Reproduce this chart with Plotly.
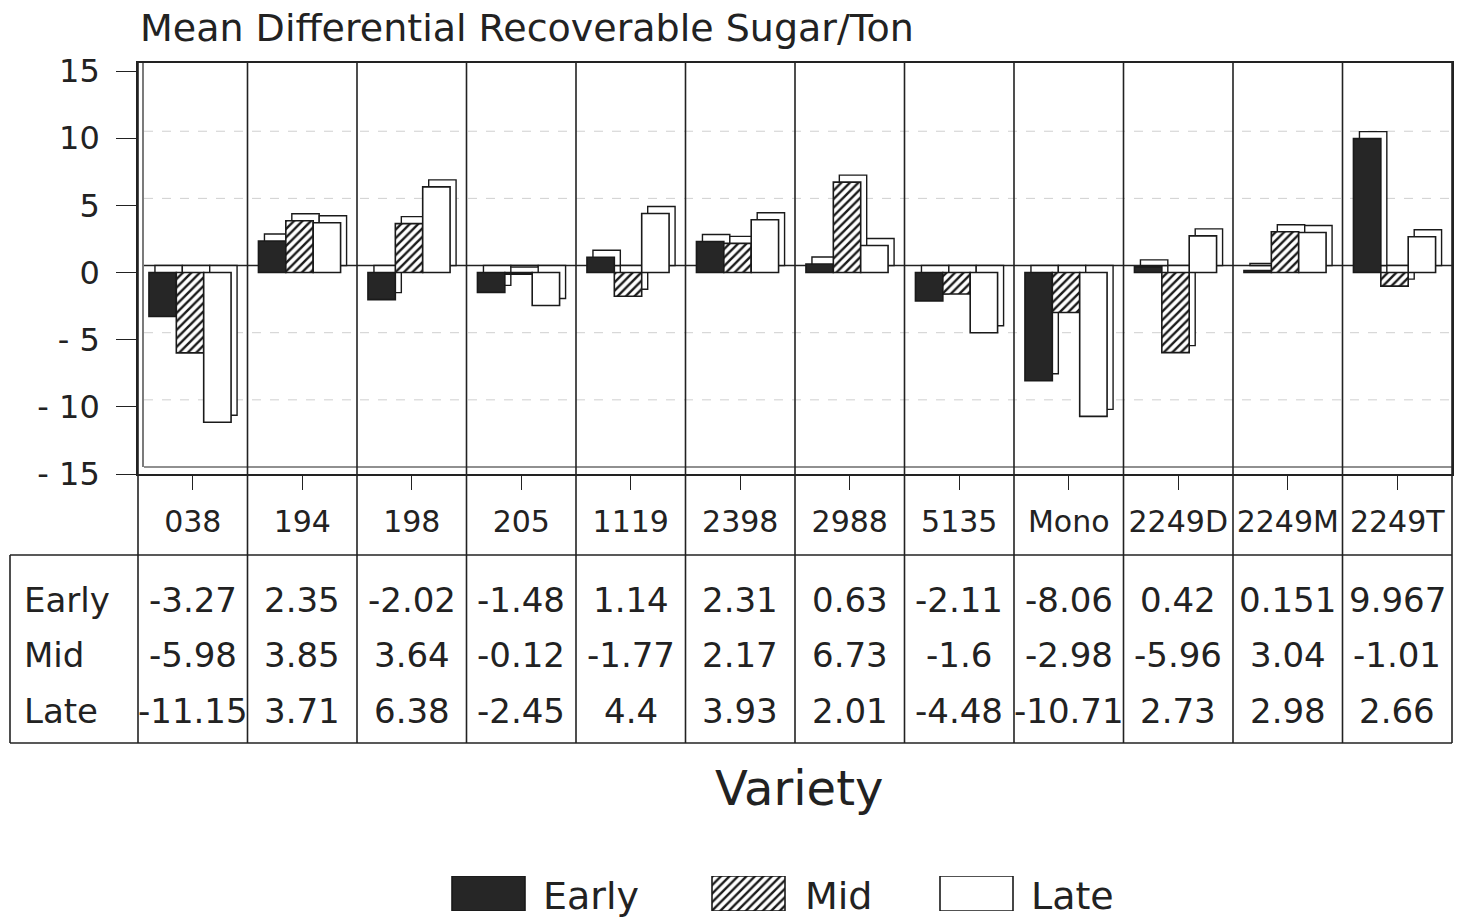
import plotly.graph_objects as go

# ---- data ---------------------------------------------------------------
varieties = ["038", "194", "198", "205", "1119", "2398", "2988", "5135",
             "Mono", "2249D", "2249M", "2249T"]
early = [-3.27, 2.35, -2.02, -1.48, 1.14, 2.31, 0.63, -2.11, -8.06, 0.42, 0.151, 9.967]
mid = [-5.98, 3.85, 3.64, -0.12, -1.77, 2.17, 6.73, -1.6, -2.98, -5.96, 3.04, -1.01]
late = [-11.15, 3.71, 6.38, -2.45, 4.4, 3.93, 2.01, -4.48, -10.71, 2.73, 2.98, 2.66]
series_names = ["Early", "Mid", "Late"]
y_tickvals = [-15, -10, -5, 0, 5, 10, 15]
y_ticktext = ["- 15", "- 10", "- 5", "0", "5", "10", "15"]
grid_values = [-10, -5, 5, 10]

title_text = "Mean Differential Recoverable Sugar/Ton"
x_title = "Variety"

# ---- page geometry (pixels) --------------------------------------------
W, H = 1457, 918
PLOT_L, PLOT_R = 138, 1452
PLOT_TOP, PLOT_BOT = 63, 474
HEAD_BOT = 555
TABLE_BOT = 743
TABLE_L = 10
ROW_Y = [600, 655, 711]

Y_MIN, Y_MAX = -15, 15.6
UNIT = (PLOT_BOT - PLOT_TOP) / (Y_MAX - Y_MIN)
CAT_PX = (PLOT_R - PLOT_L) / len(varieties)
DEPTH_X = 6 / CAT_PX          # bar depth, category units
DEPTH_Y = 7 / UNIT            # bar depth, value units

BAR_W = 0.25
GROUP_START = -0.4

INK = "#222222"
FONT = "DejaVu Sans"


def px(x):
    return x / W


def py(y):
    return 1 - y / H


def front_marker(name):
    line = dict(color="#1a1a1a", width=1.6)
    if name == "Early":
        return dict(color="#262626", line=line)
    if name == "Mid":
        return dict(color="white", line=line,
                    pattern=dict(shape="/", fgcolor="#1a1a1a", bgcolor="white",
                                 size=6, solidity=0.4))
    return dict(color="white", line=line)


fig = go.Figure()

# ---- 3-D style bars -----------------------------------------------------
for k, (name, vals) in enumerate(zip(series_names, [early, mid, late])):
    off = GROUP_START + k * BAR_W
    # receding faces: same box pushed back and up
    fig.add_bar(x=varieties, y=vals, base=DEPTH_Y, offset=off + DEPTH_X, width=BAR_W,
                marker=dict(color="white", line=dict(color="#1a1a1a", width=1.4)),
                showlegend=False, hoverinfo="skip")
    # front face
    fig.add_bar(x=varieties, y=vals, base=0, offset=off, width=BAR_W,
                marker=front_marker(name), name=name, showlegend=False)

# ---- legend keys, drawn in their own pixel-scaled axes ------------------
LEG_X = [452, 712, 940]
LEG_W = 73
LEG_TEXT_X = [541, 803, 1029]
for k, name in enumerate(series_names):
    fig.add_bar(x=[LEG_X[k] + LEG_W / 2], y=[1], width=[LEG_W], base=0,
                xaxis="x2", yaxis="y2", marker=front_marker(name),
                showlegend=False, hoverinfo="skip")

shapes = []
line_style = dict(color=INK, width=1.6)

# back-wall grid, zero line and floor edge
for g in grid_values:
    shapes.append(dict(type="line", xref="paper", yref="y", layer="below",
                       x0=px(PLOT_L + 6), x1=px(PLOT_R), y0=g + DEPTH_Y, y1=g + DEPTH_Y,
                       line=dict(color="#cfcfcf", width=1, dash="dash")))
shapes.append(dict(type="line", xref="paper", yref="y", layer="below",
                   x0=px(PLOT_L + 6), x1=px(PLOT_R), y0=DEPTH_Y, y1=DEPTH_Y,
                   line=dict(color=INK, width=1.4)))
shapes.append(dict(type="line", xref="paper", yref="y", layer="below",
                   x0=px(PLOT_L + 6), x1=px(PLOT_R), y0=Y_MIN + DEPTH_Y, y1=Y_MIN + DEPTH_Y,
                   line=dict(color=INK, width=1.2)))
shapes.append(dict(type="line", xref="paper", yref="paper", layer="below",
                   x0=px(PLOT_L + 5), x1=px(PLOT_L + 5), y0=py(PLOT_BOT - 7), y1=py(PLOT_TOP),
                   line=dict(color=INK, width=1.2)))

# category dividers running through plot and table
for i in range(len(varieties) - 1):
    shapes.append(dict(type="line", xref="x", yref="paper", layer="below",
                       x0=i + 0.5, x1=i + 0.5, y0=py(TABLE_BOT), y1=py(PLOT_TOP),
                       line=line_style))
for xpix in (PLOT_L, PLOT_R):
    shapes.append(dict(type="line", xref="paper", yref="paper", layer="below",
                       x0=px(xpix), x1=px(xpix), y0=py(TABLE_BOT), y1=py(PLOT_TOP),
                       line=line_style))
# table frame
for ypix in (HEAD_BOT, TABLE_BOT):
    shapes.append(dict(type="line", xref="paper", yref="paper", layer="below",
                       x0=px(TABLE_L), x1=px(PLOT_R), y0=py(ypix), y1=py(ypix),
                       line=line_style))
shapes.append(dict(type="line", xref="paper", yref="paper", layer="below",
                   x0=px(TABLE_L), x1=px(TABLE_L), y0=py(TABLE_BOT), y1=py(HEAD_BOT),
                   line=line_style))

annotations = []
annotations.append(dict(text=title_text, xref="paper", yref="paper",
                        x=px(138), y=py(28), xanchor="left", yanchor="middle",
                        showarrow=False, font=dict(family=FONT, size=38, color=INK)))
annotations.append(dict(text=x_title, xref="paper", yref="paper",
                        x=px(799), y=py(788), xanchor="center", yanchor="middle",
                        showarrow=False, font=dict(family=FONT, size=48, color=INK)))

# data table (columns addressed by category index)
for r, (name, vals) in enumerate(zip(series_names, [early, mid, late])):
    annotations.append(dict(text=name, xref="paper", yref="paper",
                            x=px(22), y=py(ROW_Y[r]), xanchor="left", yanchor="middle",
                            showarrow=False, font=dict(family=FONT, size=34, color=INK)))
    for c, v in enumerate(vals):
        annotations.append(dict(text=str(v), xref="x", yref="paper",
                                x=c, y=py(ROW_Y[r]),
                                xanchor="center", yanchor="middle", showarrow=False,
                                font=dict(family=FONT, size=34, color=INK)))

# legend labels
for k, name in enumerate(series_names):
    annotations.append(dict(text=name, xref="paper", yref="paper",
                            x=px(LEG_TEXT_X[k]), y=py(896), xanchor="left", yanchor="middle",
                            showarrow=False, font=dict(family=FONT, size=38, color=INK)))

fig.update_layout(
    template="none",
    width=W, height=H, autosize=False,
    margin=dict(l=0, r=0, t=0, b=0, pad=0),
    paper_bgcolor="white", plot_bgcolor="rgba(0,0,0,0)",
    barmode="overlay", showlegend=False, hovermode=False,
    shapes=shapes, annotations=annotations,
    xaxis=dict(type="category", categoryorder="array", categoryarray=varieties,
               range=[-0.5, len(varieties) - 0.5], domain=[px(PLOT_L), px(PLOT_R)],
               automargin=False,
               showline=True, linecolor=INK, linewidth=1.6, mirror=True,
               ticks="outside", ticklen=14, tickwidth=1.4, tickcolor=INK,
               ticklabelstandoff=6, showgrid=False, zeroline=False,
               tickfont=dict(family=FONT, size=30, color=INK)),
    yaxis=dict(range=[Y_MIN, Y_MAX], domain=[py(PLOT_BOT), py(PLOT_TOP)],
               automargin=False,
               tickvals=y_tickvals, ticktext=y_ticktext,
               showline=True, linecolor=INK, linewidth=1.6, mirror=True,
               ticks="outside", ticklen=20, tickwidth=1.4, tickcolor=INK,
               ticklabelstandoff=10, showgrid=False, zeroline=False,
               tickfont=dict(family=FONT, size=32, color=INK)),
    xaxis2=dict(domain=[0, 1], range=[0, W], visible=False, anchor="y2", automargin=False),
    yaxis2=dict(domain=[py(911), py(876)], range=[0, 1], visible=False, anchor="x2",
                automargin=False),
)

fig.write_html("out.html")
